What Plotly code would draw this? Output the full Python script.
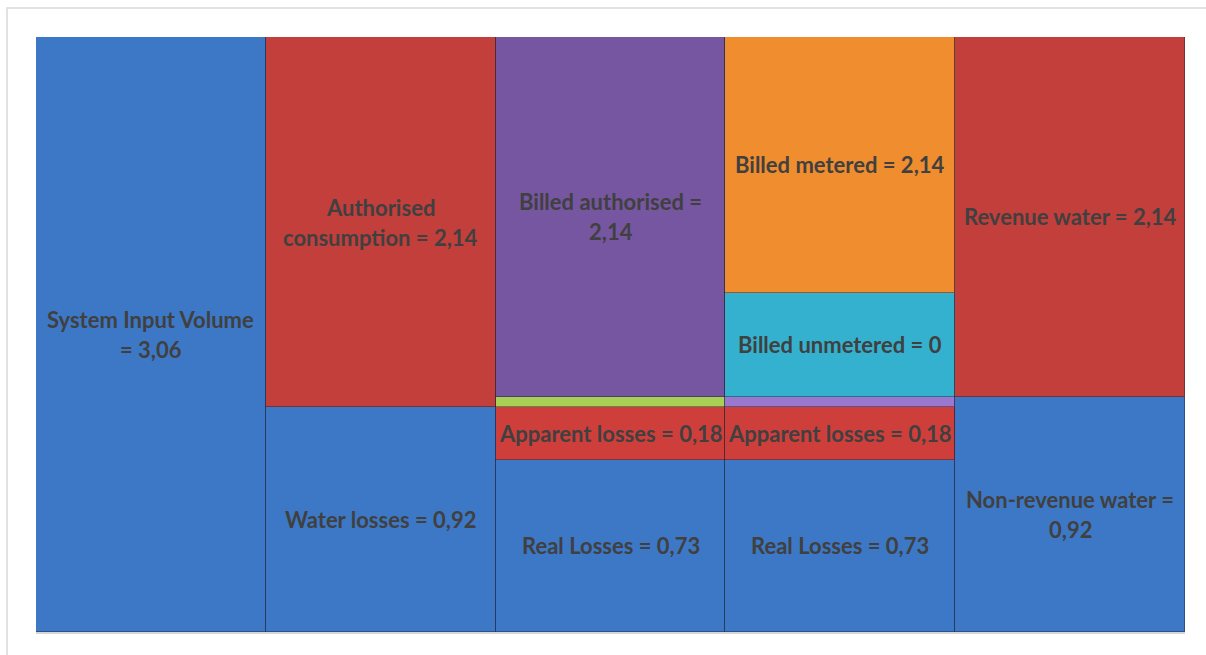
import plotly.graph_objects as go

# Columns of the water-balance chart (left to right)
columns = ["System input", "Consumption / losses", "Billed / losses", "Metered / losses", "Revenue"]

# Segments, bottom to top within each column
segment_column = [0, 1, 1, 2, 2, 2, 2, 3, 3, 3, 3, 3, 4, 4]
segment_height = [3.06,
                  1.157, 1.903,
                  0.885, 0.273, 0.051, 1.851,
                  0.885, 0.273, 0.051, 0.535, 1.316,
                  1.209, 1.851]
segment_label = ["System Input Volume<br>= 3,06",
                 "Water losses = 0,92", "Authorised<br>consumption = 2,14",
                 "Real Losses = 0,73", "Apparent losses = 0,18", "", "Billed authorised =<br>2,14",
                 "Real Losses = 0,73", "Apparent losses = 0,18", "", "Billed unmetered = 0", "Billed metered = 2,14",
                 "Non-revenue water =<br>0,92", "Revenue water = 2,14"]
segment_color = ["#3D78C6",
                 "#3D78C6", "#C23F3C",
                 "#3D78C6", "#CE3F3C", "#A8D055", "#7656A0",
                 "#3D78C6", "#CE3F3C", "#9A78CF", "#34B1CE", "#F08D2E",
                 "#3D78C6", "#C23F3C"]

fig = go.Figure()
base = [0.0] * len(columns)
annotations = []
for col, h, lab, colr in zip(segment_column, segment_height, segment_label, segment_color):
    fig.add_trace(go.Bar(
        x=[col], y=[h], marker=dict(color=colr, line=dict(color="rgba(30,30,50,0.45)", width=1)),
        width=1.0, showlegend=False, hoverinfo="skip"))
    mid = base[col] + h / 2
    base[col] += h
    if lab:
        lines = lab.split("<br>")
        n = len(lines)
        for i, ln in enumerate(lines):
            annotations.append(dict(
                x=col, y=mid, xref="x", yref="y", text="<b>" + ln + "</b>", showarrow=False,
                yshift=(n - 1) * 15 - i * 30,
                font=dict(family="Lato, Carlito, sans-serif", size=22, color="#404040")))

fig.update_layout(
    barmode="stack", bargap=0,
    width=1206, height=655,
    margin=dict(l=36, r=21, t=37, b=23),
    paper_bgcolor="white", plot_bgcolor="white",
    xaxis=dict(range=[-0.5, len(columns) - 0.5], showticklabels=False, showgrid=False, zeroline=False,
               showline=True, linecolor="#D6D6D6", linewidth=2, ticks=""),
    yaxis=dict(range=[0, 3.06], showticklabels=False, showgrid=False, zeroline=False, ticks=""),
    annotations=annotations,
    shapes=[dict(type="rect", xref="paper", yref="paper",
                 x0=(7 - 36) / 1149, x1=(1215 - 36) / 1149,
                 y0=(632 - 665) / 595, y1=(632 - 8) / 595,
                 line=dict(color="#D9D9D9", width=1.5), layer="below")],
)

fig.write_html("out.html")
